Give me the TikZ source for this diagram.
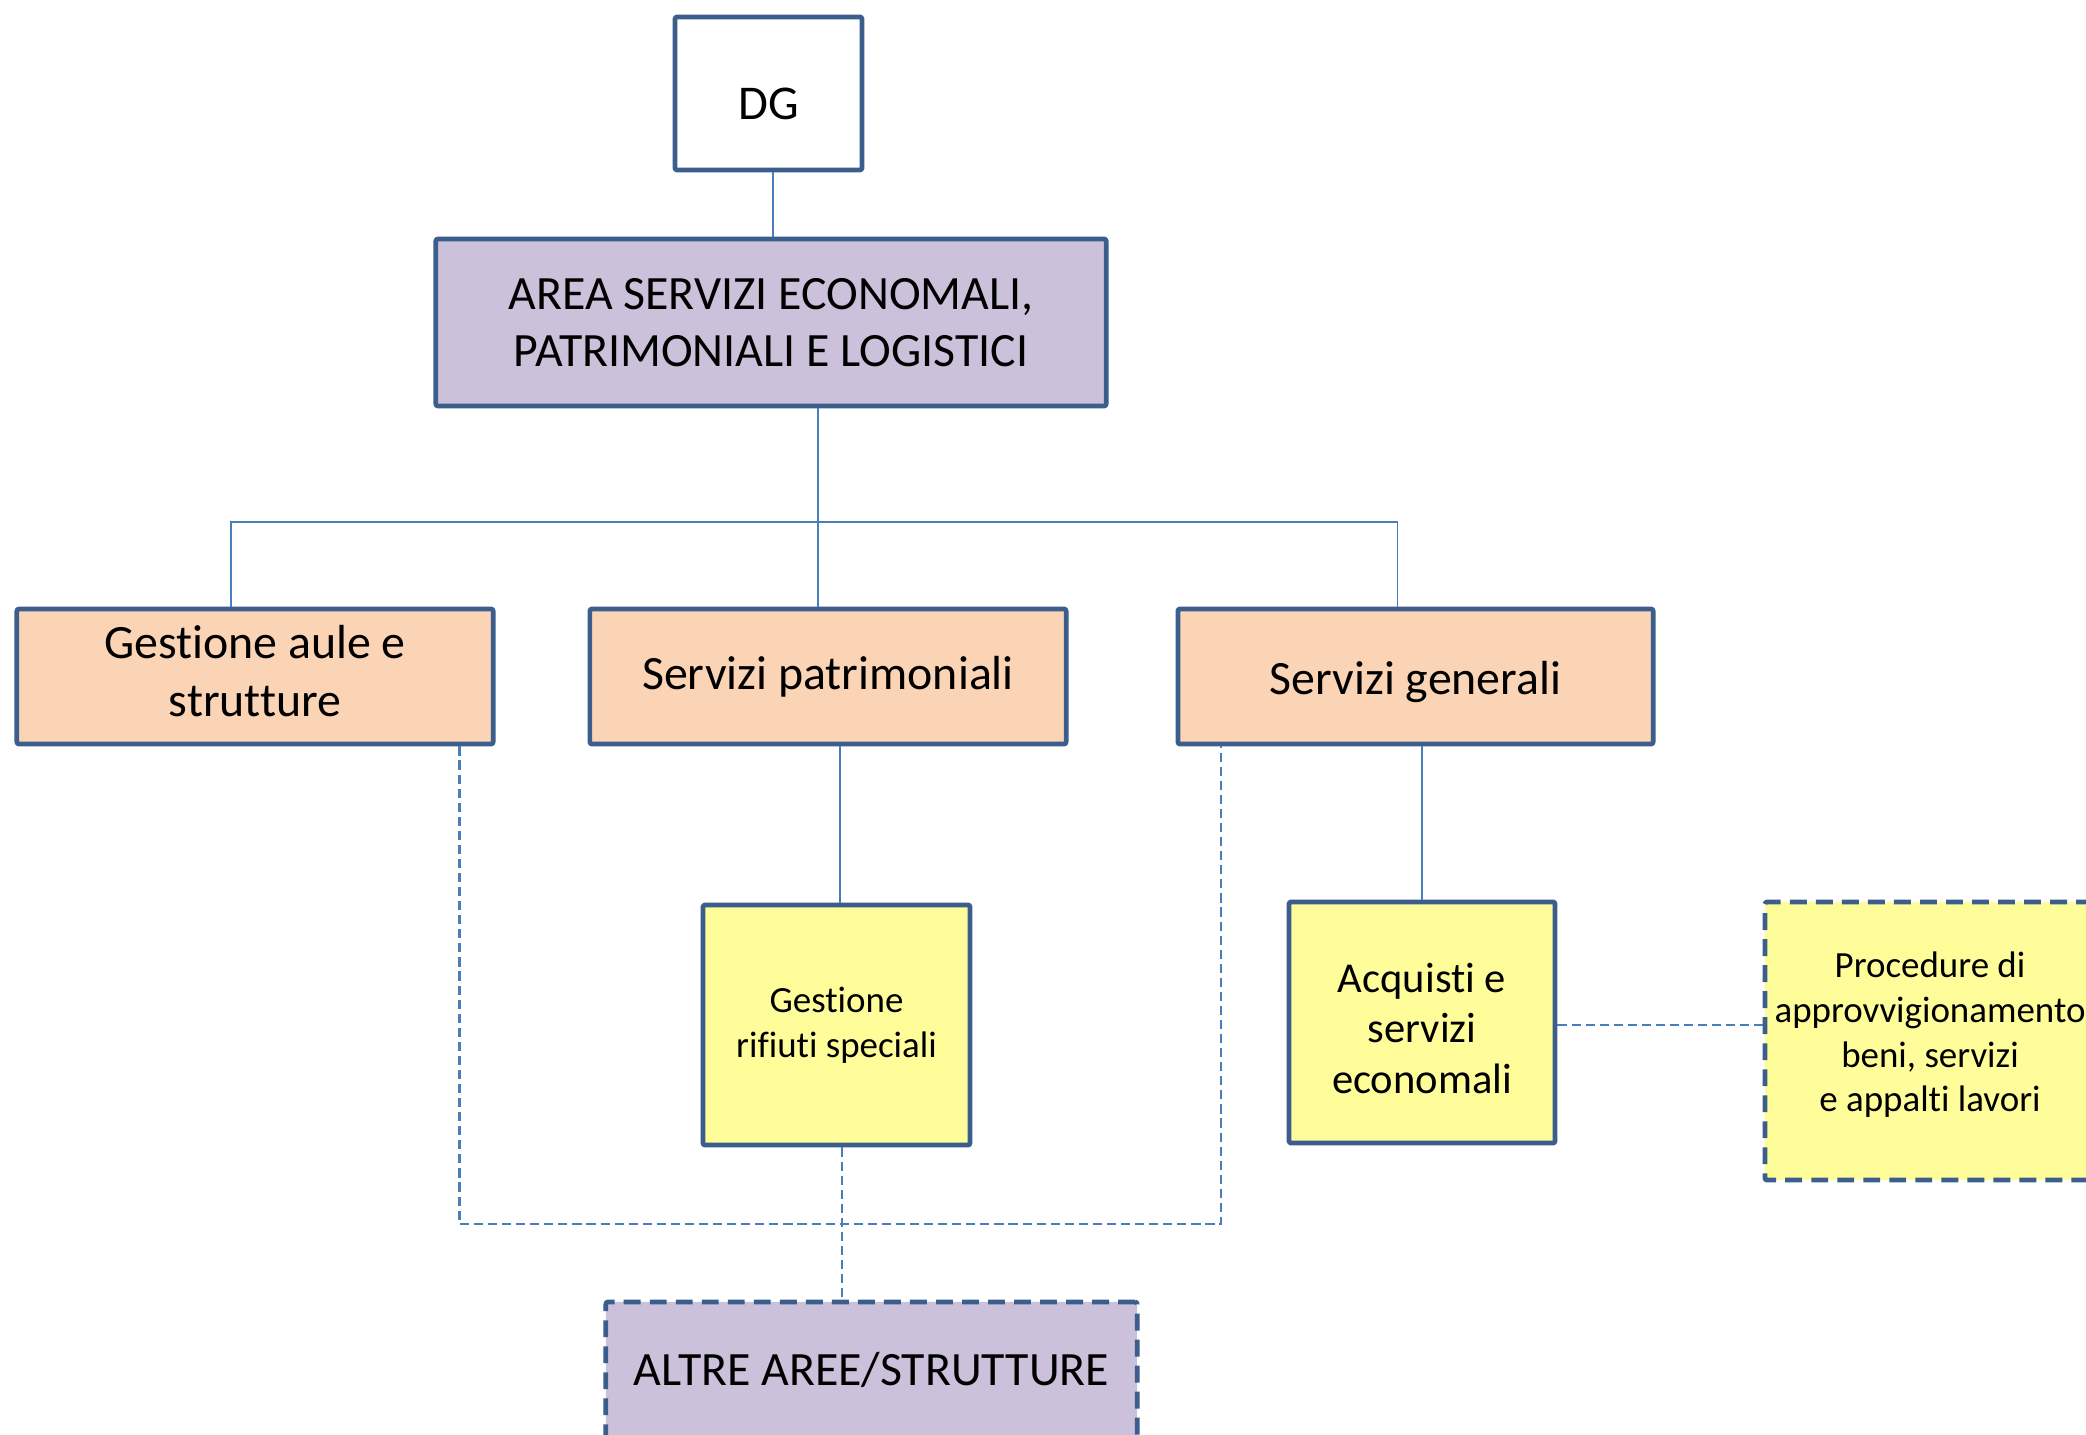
\documentclass[tikz,border=0pt]{standalone}
\usepackage{fontspec}
\setmainfont{Carlito}[Ligatures=NoCommon]
\definecolor{bord}{HTML}{3B5E8C}
\definecolor{conncol}{HTML}{4A7EBB}
\definecolor{lav}{HTML}{CCC1DA}
\definecolor{peach}{HTML}{FAD4B4}
\definecolor{yel}{HTML}{FFFD99}
\newcommand{\lowr}[2]{\raisebox{-#1}[\height][\depth]{#2}}
\tikzset{
  boxbase/.style={draw=bord, line width=1.35pt, line join=round, rounded corners=0.6pt, align=center, inner sep=0pt, text=black},
  dgbox/.style={boxbase, fill=white, font=\fontsize{13.8}{16.4}\selectfont},
  areabox/.style={boxbase, fill=lav, font=\fontsize{13.6}{16.3}\selectfont},
  unitbox/.style={boxbase, fill=peach, font=\fontsize{13.6}{16.3}\selectfont},
  subbox/.style={boxbase, fill=yel},
  dashbox/.style={boxbase, dash pattern=on 4.8pt off 2.6pt},
  txt/.style={align=center, inner sep=0pt, text=black},
  conn/.style={draw=conncol, line width=0.55pt},
  dconn/.style={draw=conncol, line width=0.6pt, dash pattern=on 2.6pt off 1.4pt},
}
\begin{document}
\begin{tikzpicture}[x=0.01cm,y=-0.01cm]
\useasboundingbox (0,0) rectangle (2086,1434);
% boxes
\node[dgbox, minimum width=1.87cm, minimum height=1.53cm] (dg) at (768.5,93.5) {\lowr{0.1cm}{DG}};
\node[areabox, minimum width=6.70cm, minimum height=1.67cm] (area) at (771,322.5) {AREA SERVIZI ECONOMALI,\\PATRIMONIALI E LOGISTICI};
\node[unitbox, minimum width=4.76cm, minimum height=1.35cm] (ga) at (255,676.5) {};
\node[txt, font=\fontsize{13.6}{16.3}\selectfont] (gat) at (255,671) {Gestione aule e\\strutture};
\node[unitbox, minimum width=4.76cm, minimum height=1.35cm] (sp) at (828,676.5) {Servizi patrimoniali};
\node[unitbox, minimum width=4.75cm, minimum height=1.35cm] (sg) at (1415.5,676.5) {\lowr{0.05cm}{Servizi generali}};
\node[subbox, minimum width=2.67cm, minimum height=2.40cm, font=\fontsize{10.5}{12.7}\selectfont] (rs) at (836.5,1025) {Gestione\\rifiuti speciali};
\node[subbox, minimum width=2.66cm, minimum height=2.41cm] (ac) at (1422,1022.5) {};
\node[txt, font=\fontsize{12.1}{14.3}\selectfont] (act) at (1422,1028.5) {Acquisti e\\servizi\\economali};
\node[subbox, dashbox, minimum width=3.30cm, minimum height=2.78cm] (pr) at (1930,1041) {};
\node[txt, font=\fontsize{10.5}{12.7}\selectfont] (prt) at (1930,1035) {Procedure di\\approvvigionamento\\beni, servizi\\e appalti lavori};
\node[areabox, dashbox, minimum width=5.31cm, minimum height=1.36cm] (al) at (871.5,1370) {ALTRE AREE/STRUTTURE};
% helper coordinates
\coordinate (bus) at (0,521.7);
\coordinate (dbus) at (0,1224.3);
\coordinate (xdg) at (773,0);
\coordinate (xga) at (230.8,0);
\coordinate (xsp) at (818,0);
\coordinate (xsg) at (1397.5,0);
\coordinate (xrs) at (840,0);
\coordinate (xgad) at (459.5,0);
\coordinate (xsgd) at (1221.2,0);
\coordinate (xal) at (842,0);
\coordinate (yac) at (0,1024.8);
% solid connectors
\draw[conn] (dg.south -| xdg) -- (area.north -| xdg);
\draw[conn] (area.south -| xsp) -- (sp.north -| xsp);
\draw[conn] (ga.north -| xga) -- (bus -| xga) -- (bus -| xsg) -- (sg.north -| xsg);
\draw[conn] (sp.south -| xrs) -- (rs.north -| xrs);
\draw[conn] (sg.south -| ac.north) -- (ac.north);
% dashed connectors
\draw[dconn] (ga.south -| xgad) -- (dbus -| xgad) -- (dbus -| xsgd) -- (sg.south -| xsgd);
\draw[dconn] (rs.south -| xal) -- (al.north -| xal);
\draw[dconn] (ac.east |- yac) -- (pr.west |- yac);
\end{tikzpicture}
\end{document}
